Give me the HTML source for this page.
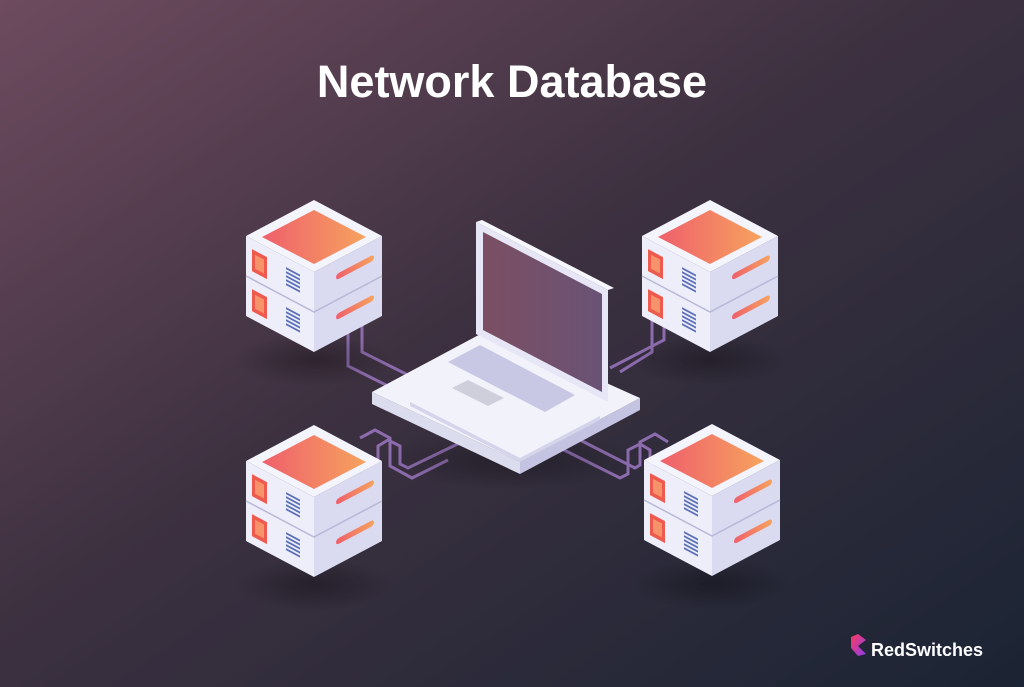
<!DOCTYPE html>
<html><head><meta charset="utf-8"><style>
html,body{margin:0;padding:0;width:1024px;height:687px;overflow:hidden}
</style></head><body>
<svg width="1024" height="687" viewBox="0 0 1024 687" xmlns="http://www.w3.org/2000/svg">
<defs>
<linearGradient id="bg" x1="0" y1="0" x2="1" y2="1">
<stop offset="0" stop-color="#6e4b5f"/><stop offset="0.45" stop-color="#3d3140"/><stop offset="1" stop-color="#1b2434"/></linearGradient>
<linearGradient id="org" x1="0" y1="0" x2="1" y2="0">
<stop offset="0" stop-color="#ef5f6c"/><stop offset="1" stop-color="#f6a35e"/></linearGradient>
<linearGradient id="scr" x1="0" y1="0" x2="1" y2="0">
<stop offset="0" stop-color="#7b4f63"/><stop offset="1" stop-color="#6a5275"/></linearGradient>
<linearGradient id="logo" x1="0" y1="0" x2="1" y2="1">
<stop offset="0" stop-color="#ff3b5c"/><stop offset="1" stop-color="#8a3cf0"/></linearGradient>
<radialGradient id="sh"><stop offset="0" stop-color="#000" stop-opacity="0.3"/><stop offset="1" stop-color="#000" stop-opacity="0"/></radialGradient>
<g id="box">
<polygon points="-68,36 0,72 0,112 -68,76" fill="#eeeefa"/>
<polygon points="0,72 68,36 68,76 0,112" fill="#dadaf0"/>
<g transform="matrix(1,0.529,0,1,-68,36)">
<rect x="6" y="10" width="15" height="22" fill="#ee5a4e"/>
<rect x="9" y="14" width="9" height="14" fill="#f6936a"/>
<g fill="#5a6fb8">
<rect x="40" y="10" width="14" height="2"/><rect x="40" y="14" width="14" height="2"/><rect x="40" y="18" width="14" height="2"/><rect x="40" y="22" width="14" height="2"/><rect x="40" y="26" width="14" height="2"/></g>
</g>
<g transform="matrix(1,-0.529,0,1,0,72)">
<rect x="22" y="14" width="38" height="6" rx="3" fill="url(#org)"/>
</g>
</g>
<g id="srv">
<ellipse cx="0" cy="160" rx="80" ry="26" fill="url(#sh)"/>
<use href="#box" y="40"/>
<use href="#box" y="0"/>
<polyline points="-68,76 0,112 68,76" fill="none" stroke="#b8b8d8" stroke-width="1.5"/>
<polygon points="0,0 68,36 0,72 -68,36" fill="#f4f4fc"/>
<polygon points="0,10 52,37 0,64 -52,37" fill="url(#org)"/>
</g>
</defs>
<rect width="1024" height="687" fill="url(#bg)"/>
<text x="512" y="97" text-anchor="middle" font-family="Liberation Sans, sans-serif" font-weight="bold" font-size="45" fill="#fff">Network Database</text>

<g fill="none" stroke="#8d6cae" stroke-width="3">
<path d="M300,283 L340,262 L362,274 L362,352 L410,376"/>
<path d="M312,320 L345,302 L348,304 L348,366 L400,392"/>
<path d="M690,268 L664,282 L664,340 L610,368"/>
<path d="M698,300 L676,312 L652,300 L652,352 L620,372"/>
<path d="M470,438 L408,468 L400,464 L400,446 L388,440 L378,446 L378,462 L368,467 L345,455"/>
<path d="M448,460 L412,478 L390,466 L390,438 L375,430 L360,438"/>
<path d="M560,448 L620,478 L628,474 L628,450 L640,444 L650,450 L650,466 L665,458"/>
<path d="M580,440 L635,468 L640,465 L640,442 L655,434 L668,442"/>
</g>

<use href="#srv" x="314" y="200"/>
<use href="#srv" x="710" y="200"/>
<use href="#srv" x="314" y="425"/>
<use href="#srv" x="712" y="424"/>

<ellipse cx="510" cy="460" rx="130" ry="30" fill="url(#sh)"/>
<polygon points="372,392 520,462 520,474 372,404" fill="#dcdcef"/>
<polygon points="520,462 640,398 640,410 520,474" fill="#c4c4e2"/>
<polygon points="372,392 488,330 640,398 520,462" fill="#f2f2fb"/>
<polygon points="410,402 520,458 600,416 600,420 520,462 410,406" fill="#d4d4ea"/>
<polygon points="476,222 608,290 608,402 476,334" fill="#e6e6f6"/>
<polygon points="476,222 482,220 614,288 608,290" fill="#f6f6fd"/>
<polygon points="483,232 602,294 602,392 483,330" fill="url(#scr)"/>
<polygon points="448,362 480,345 575,395 545,412" fill="#c8c8e4"/>
<polygon points="452,388 468,380 504,398 488,406" fill="#cfcfdc"/>

<polygon points="851,637 858,634 866,640 858,646 866,654 858,656 851,648" fill="url(#logo)"/>
<text x="871" y="656" font-family="Liberation Sans, sans-serif" font-weight="bold" font-size="18" fill="#fff">RedSwitches</text>
</svg>
</body></html>
